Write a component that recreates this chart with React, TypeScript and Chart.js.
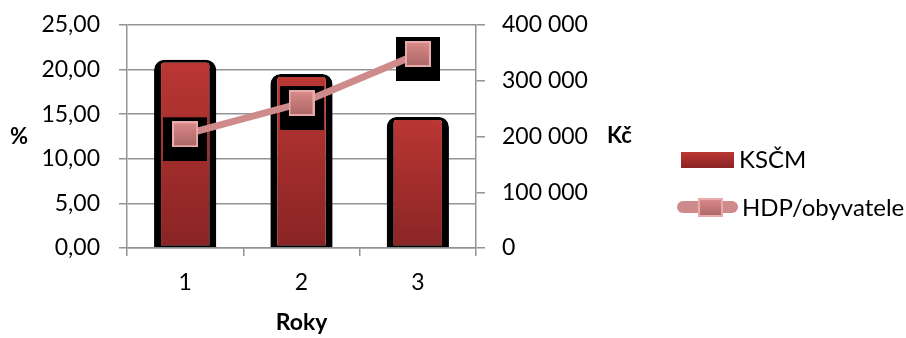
import React, { useEffect, useRef } from 'react';
import { Chart, registerables } from 'chart.js';

Chart.register(...registerables);

// ---- data ----
const categories = ['1', '2', '3'];
const ksmValues = [21.1, 19.5, 14.7];
const hdpValues = [204000, 260000, 348000];
const seriesNames = ['KSČM', 'HDP/obyvatele'];
const leftTitle = '%';
const rightTitle = 'Kč';
const bottomTitle = 'Roky';
const leftRange = [0, 25, 5];
const rightRange = [0, 400000, 100000];

// ---- style ----
const FONT = 'Lato, "Open Sans", "DejaVu Sans", sans-serif';
const GRID = '#939393';
const LINE = '#CF8B8B';
const BAR_TOP = '#BB3734';
const BAR_BOTTOM = '#892424';

function fmtLeft(v: number) {
  return Number(v).toFixed(2).replace('.', ',');
}
function fmtRight(v: number) {
  return String(Math.round(Number(v))).replace(/\B(?=(\d{3})+(?!\d))/g, ' ');
}

function markerCanvas(w: number, h: number): HTMLCanvasElement {
  const c = document.createElement('canvas');
  c.width = w;
  c.height = h;
  const x = c.getContext('2d')!;
  const g = x.createLinearGradient(0, 0, 0, h);
  g.addColorStop(0, '#DC8B8B');
  g.addColorStop(1, '#A96565');
  x.fillStyle = g;
  x.fillRect(0, 0, w, h);
  x.strokeStyle = '#E8AAAA';
  x.lineWidth = 2;
  x.strokeRect(1, 1, w - 2, h - 2);
  return c;
}

function shadowCanvas(size: number, shift: number): HTMLCanvasElement {
  const c = document.createElement('canvas');
  c.width = size;
  c.height = size + 2 * shift;
  const x = c.getContext('2d')!;
  x.fillStyle = '#000';
  x.fillRect(0, 2 * shift, size, size);
  return c;
}

const zeroPad = (s: any) => {
  s.paddingTop = 0;
  s.paddingBottom = 0;
  s.paddingLeft = 0;
  s.paddingRight = 0;
};

export default function App() {
  const ref = useRef<HTMLCanvasElement | null>(null);

  useEffect(() => {
    const canvas = ref.current;
    if (!canvas) return;
    const marker = markerCanvas(26, 26);
    const legendMarker = markerCanvas(25, 19);
    const shadow = shadowCanvas(44, 5);

    const barFill = (c: any) => {
      const chart = c.chart;
      if (!chart.chartArea || c.type !== 'data') return '#A52E2C';
      const ys = chart.scales.y;
      const top = ys.getPixelForValue(c.raw);
      const bot = ys.getPixelForValue(0);
      const g = chart.ctx.createLinearGradient(0, top, 0, bot);
      g.addColorStop(0, BAR_TOP);
      g.addColorStop(1, BAR_BOTTOM);
      return g;
    };

    const decor = {
      id: 'decor',
      afterDraw(chart: any) {
        const ctx = chart.ctx as CanvasRenderingContext2D;
        const a = chart.chartArea;
        const midY = (a.top + a.bottom) / 2;
        ctx.save();
        ctx.fillStyle = '#000';
        ctx.textBaseline = 'alphabetic';
        ctx.font = `bold 22px ${FONT}`;
        ctx.textAlign = 'left';
        ctx.fillText(leftTitle, 10, midY + 7.5);
        ctx.fillText(rightTitle, chart.scales.y2.right - 25, midY + 6.5);
        ctx.font = `bold 23px ${FONT}`;
        ctx.textAlign = 'center';
        ctx.fillText(bottomTitle, (a.left + a.right) / 2, 330);

        // legend
        const lx = 681;
        const g = ctx.createLinearGradient(0, 152, 0, 168);
        g.addColorStop(0, BAR_TOP);
        g.addColorStop(1, BAR_BOTTOM);
        ctx.fillStyle = g;
        ctx.fillRect(lx, 152, 53, 16);
        ctx.fillStyle = '#000';
        ctx.textAlign = 'left';
        ctx.font = `24px ${FONT}`;
        ctx.fillText(seriesNames[0], 739, 167.5);
        ctx.strokeStyle = LINE;
        ctx.lineWidth = 12;
        ctx.lineCap = 'round';
        ctx.beginPath();
        ctx.moveTo(lx + 2, 207);
        ctx.lineTo(lx + 51, 207);
        ctx.stroke();
        ctx.drawImage(legendMarker, 698, 198);
        ctx.fillStyle = '#000';
        ctx.fillText(seriesNames[1], 742, 215.5);
        ctx.restore();
      },
    };

    const tickFont = { family: FONT, size: 23 };

    const chart = new Chart(canvas, {
      type: 'bar',
      data: {
        labels: categories,
        datasets: [
          {
            type: 'line',
            label: seriesNames[1],
            data: hdpValues,
            yAxisID: 'y2',
            borderColor: LINE,
            borderWidth: 7,
            pointStyle: marker as any,
            pointRadius: 13,
            tension: 0,
            order: 1,
            clip: false as any,
          },
          {
            type: 'line',
            label: 'shadow',
            data: hdpValues,
            yAxisID: 'y2',
            showLine: false,
            pointStyle: shadow as any,
            pointRadius: 22,
            order: 2,
            clip: false as any,
          },
          {
            type: 'bar',
            label: seriesNames[0],
            data: ksmValues,
            yAxisID: 'y',
            backgroundColor: barFill as any,
            borderColor: '#000',
            borderWidth: { top: 3, left: 7, right: 7, bottom: 2 } as any,
            borderSkipped: false as any,
            borderRadius: { topLeft: 10, topRight: 10, bottomLeft: 0, bottomRight: 0 } as any,
            categoryPercentage: 1,
            barPercentage: 0.535,
            order: 3,
          },
        ],
      },
      options: {
        responsive: false,
        animation: false,
        devicePixelRatio: 1,
        layout: { padding: { top: 25, left: 0, right: 274, bottom: 0 } },
        plugins: {
          legend: { display: false },
          tooltip: { enabled: false },
          title: { display: false },
        },
        scales: {
          x: {
            offset: true,
            grid: { offset: true, drawOnChartArea: false, drawTicks: true, tickLength: 8, color: GRID, lineWidth: 1.5 },
            border: { color: GRID, width: 1.5 },
            ticks: { font: tickFont, color: '#000', padding: 13 },
            afterFit: (s: any) => { s.height = 90; zeroPad(s); },
          },
          y: {
            position: 'left',
            min: leftRange[0],
            max: leftRange[1],
            grid: { color: GRID, lineWidth: 1.5, tickLength: 8 },
            border: { color: GRID, width: 1.5 },
            ticks: { stepSize: leftRange[2], font: tickFont, color: '#000', padding: 19, callback: (v: any) => fmtLeft(v) },
            afterFit: (s: any) => { s.width = 127; zeroPad(s); },
          },
          y2: {
            position: 'right',
            min: rightRange[0],
            max: rightRange[1],
            grid: { drawOnChartArea: false, color: GRID, lineWidth: 1.5, tickLength: 9 },
            border: { color: GRID, width: 1.5 },
            ticks: { stepSize: rightRange[2], font: tickFont, color: '#000', padding: 17, callback: (v: any) => fmtRight(v) },
            afterFit: (s: any) => { s.width = 156; zeroPad(s); },
          },
        },
      },
      plugins: [decor],
    });
    return () => chart.destroy();
  }, []);

  return (
    <div style={{ position: 'fixed', left: 0, top: 0, width: 906, height: 338, background: '#fff' }}>
      <canvas ref={ref} width={906} height={338} style={{ display: 'block', width: 906, height: 338 }} />
    </div>
  );
}
